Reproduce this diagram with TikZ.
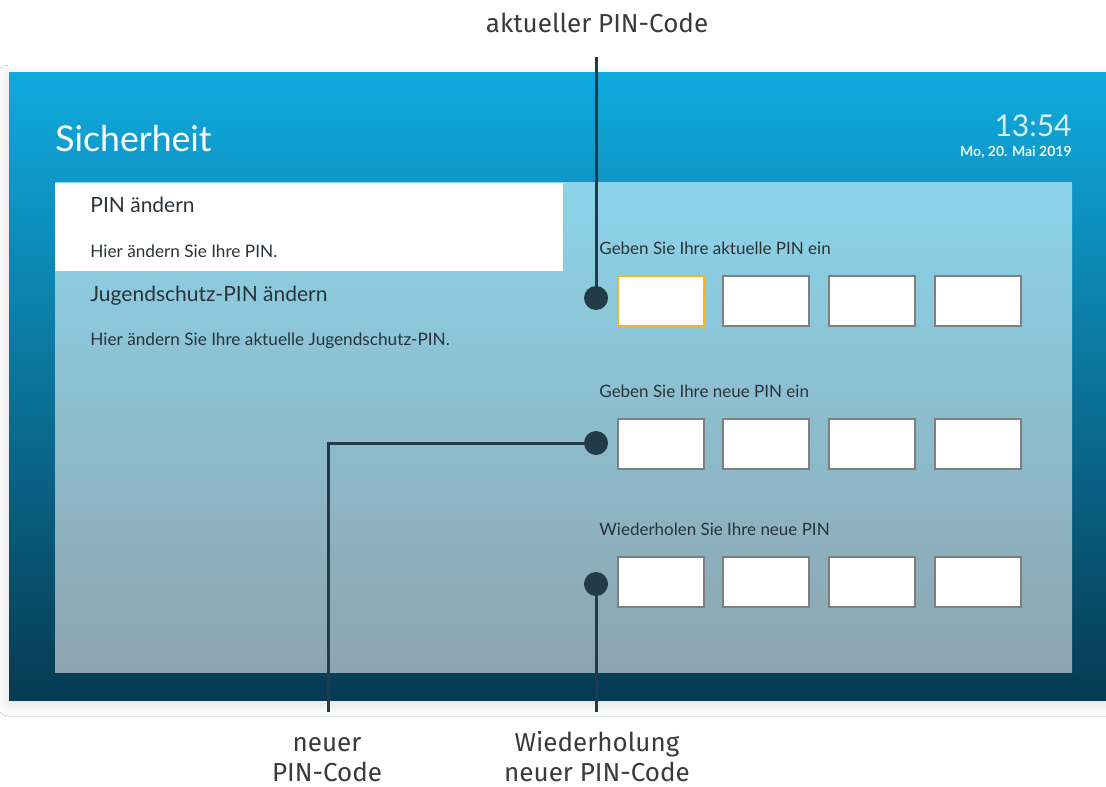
\documentclass[tikz,border=0pt]{standalone}
\usepackage{fontspec}
\setmainfont{Lato}
\newfontfamily\calloutfont{Fira Sans}
\usetikzlibrary{positioning,calc,shadows.blur}
\definecolor{scrtop}{HTML}{10AADF}
\definecolor{scrmid}{HTML}{1A84AC}
\definecolor{scrbot}{HTML}{063A52}
\definecolor{paneltop}{HTML}{8CD4EA}
\definecolor{panelmid}{HTML}{91BCCB}
\definecolor{panelbot}{HTML}{8DA4AF}
\definecolor{pinline}{HTML}{233A47}
\definecolor{boxgray}{HTML}{7F7F7F}
\definecolor{focus}{HTML}{F5B323}
\definecolor{uitext}{HTML}{2B3338}
\definecolor{labeltext}{HTML}{3A3A3A}
\tikzset{
  pinbox/.style   = {rectangle,draw=boxgray,fill=white,line width=1pt,minimum width=43pt,minimum height=25pt,inner sep=0pt},
  pinfocus/.style = {pinbox,draw=focus},
  marker/.style   = {circle,fill=pinline,minimum size=12pt,inner sep=0pt},
  callout/.style  = {draw=pinline,line width=1.5pt},
  calloutlabel/.style = {align=center,font=\calloutfont\fontsize{13}{15}\selectfont,text=labeltext,inner sep=0pt},
  prompt/.style   = {anchor=base west,font=\fontsize{8.5}{10}\selectfont,text=uitext,inner sep=0pt},
  menuitem/.style = {anchor=base west,font=\fontsize{10.5}{12}\selectfont,text=uitext,inner sep=0pt},
  menuhint/.style = {anchor=base west,font=\fontsize{8.6}{10}\selectfont,text=uitext,inner sep=0pt},
}

\begin{document}
\begin{tikzpicture}[x=0.5pt,y=-0.5pt]
\useasboundingbox[fill=white] (0,0) rectangle (1106,786);
% screen with shadow
\path[blur shadow={shadow xshift=0pt,shadow yshift=-2pt,shadow blur steps=12,shadow blur radius=6pt,shadow opacity=14}] (9,73) rectangle (1106,700);
\shade[top color=scrtop,middle color=scrmid,bottom color=scrbot] (9,73) rectangle (1106,700);
\shade[top color=paneltop,middle color=panelmid,bottom color=panelbot] (55,183) rectangle (1072,672);
\fill[white] (55,183) rectangle (563,271);

% header
\node[anchor=base west,inner sep=0pt,text=white,font=\fontsize{17.8}{19}\selectfont] (title) at (55,152) {Sicherheit};
\node[anchor=base east,inner sep=0pt,text=white!85!scrtop,font=\fontsize{15}{16}\selectfont] (clock) at (1072,137) {13:54};
\node[anchor=base east,inner sep=0pt,text=white!90!scrtop,font=\bfseries\fontsize{7}{8}\selectfont] (date) at (1072,157) {Mo, 20. Mai 2019};

% menu
\node[menuitem] (item1) at (90,213) {PIN ändern};
\node[menuhint] (hint1) at (90,257) {Hier ändern Sie Ihre PIN.};
\node[menuitem] (item2) at (90,301) {Jugendschutz-PIN ändern};
\node[menuhint] (hint2) at (90,345) {Hier ändern Sie Ihre aktuelle Jugendschutz-PIN.};

% pin fields
\node[prompt] (ask1) at (599,254) {Geben Sie Ihre aktuelle PIN ein};
\node[pinfocus] (a1) at (660.5,301) {};
\node[pinbox]   (a2) at (766,301) {};
\node[pinbox]   (a3) at (872,301) {};
\node[pinbox]   (a4) at (978,301) {};
\node[prompt] (ask2) at (599,397) {Geben Sie Ihre neue PIN ein};
\node[pinbox] (b1) at (660.5,444) {};
\node[pinbox] (b2) at (766,444) {};
\node[pinbox] (b3) at (872,444) {};
\node[pinbox] (b4) at (978,444) {};
\node[prompt] (ask3) at (599,535) {Wiederholen Sie Ihre neue PIN};
\node[pinbox] (c1) at (660.5,582) {};
\node[pinbox] (c2) at (766,582) {};
\node[pinbox] (c3) at (872,582) {};
\node[pinbox] (c4) at (978,582) {};

% callouts
\node[marker] (dot1) at (596,298) {};
\node[marker] (dot2) at (596,443) {};
\node[marker] (dot3) at (596,584) {};
\coordinate (end1) at (596,57);
\coordinate (end2) at (328,712);
\coordinate (end3) at (596,712);
\draw[callout] (dot1.center) -- (end1);
\draw[callout] (dot2.center) -| (end2);
\draw[callout] (dot3.center) -- (end3);
\node[calloutlabel,anchor=base] (lab1) at (597,33) {aktueller PIN-Code};
\node[calloutlabel,anchor=base] (lab2) at (327,781) {neuer\\PIN-Code};
\node[calloutlabel,anchor=base] (lab3) at (597,781) {Wiederholung\\neuer PIN-Code};
\end{tikzpicture}
\end{document}
